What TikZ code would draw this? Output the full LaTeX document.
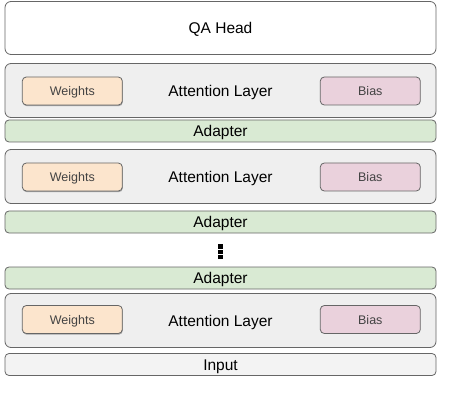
\documentclass[tikz,border=0pt]{standalone}
\usepackage{fontspec}
\setmainfont{Liberation Sans}
\usetikzlibrary{shadows}

\definecolor{edgegray}{HTML}{666666}
\definecolor{layergray}{HTML}{EFEFEF}
\definecolor{inputgray}{HTML}{F3F3F3}
\definecolor{adaptgreen}{HTML}{D9EAD3}
\definecolor{weightpeach}{HTML}{FCE5CD}
\definecolor{biaspink}{HTML}{EAD1DC}
\definecolor{paramtext}{HTML}{434343}

\tikzset{
  box/.style={draw=edgegray, line width=0.8pt, rounded corners=6pt, minimum width=431pt,
    inner sep=0pt, text height=11.1pt, text depth=0pt, font=\fontsize{15.5}{18}\selectfont},
  head/.style={box, fill=white, minimum height=53pt},
  layer/.style={box, fill=layergray, minimum height=54pt},
  adapter/.style={box, fill=adaptgreen, minimum height=22pt, rounded corners=4pt},
  inputbox/.style={box, fill=inputgray, minimum height=22pt, rounded corners=4pt},
  param/.style={draw=edgegray, line width=0.8pt, rounded corners=4pt, minimum width=100pt,
    minimum height=28pt, inner sep=0pt, text=paramtext, text height=9pt, text depth=0pt,
    font=\fontsize{12.5}{15}\selectfont},
  weights/.style={param, fill=weightpeach,
    drop shadow={shadow xshift=0.5pt, shadow yshift=-1.2pt, opacity=0.3, fill=black}},
  bias/.style={param, fill=biaspink}
}

\begin{document}
\begin{tikzpicture}[x=1pt, y=1pt]
        \useasboundingbox (0, 0) rectangle (468, 410);
        \node[head] (H) at (220.5, 382) {QA Head};

        \node[layer] (L1) at (220.5, 319.5) {Attention Layer};
        \node[weights] (W1) at (72.3, 319) {Weights};
        \node[bias] (B1) at (370.3, 319) {Bias};
        \node[adapter] (D1) at (220.5, 279) {Adapter};

        \node[layer] (L2) at (220.5, 233.5) {Attention Layer};
        \node[weights] (W2) at (72.3, 233) {Weights};
        \node[bias] (B2) at (370.3, 233) {Bias};
        \node[adapter] (D2) at (220.5, 188) {Adapter};

        \foreach \k in {0, 1, 2}
            \fill (218, {151 + 5.2*\k}) rectangle (223, {155.3 + 5.2*\k});

        \node[adapter] (D3) at (220.5, 132) {Adapter};
        \node[layer] (L3) at (220.5, 89.5) {Attention Layer};
        \node[weights] (W3) at (72.3, 90.5) {Weights};
        \node[bias] (B3) at (370.3, 90.5) {Bias};
        \node[inputbox] (I) at (220.5, 45.5) {Input};
    \end{tikzpicture}
\end{document}
